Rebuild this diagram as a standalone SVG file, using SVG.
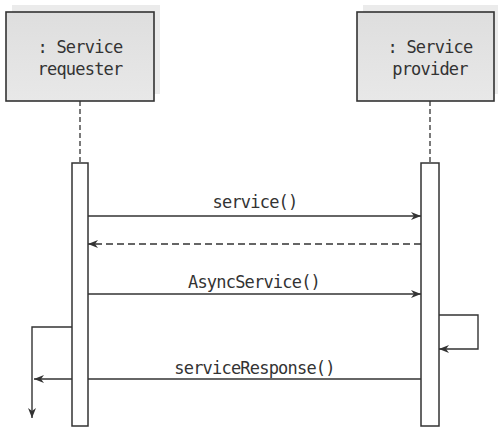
<svg xmlns="http://www.w3.org/2000/svg" width="504" height="427" viewBox="0 0 504 427">
<style>
.shadow{fill:#ebebeb;stroke:none}
.box{fill:url(#g);stroke:#333;stroke-width:1.6}
.bar{fill:#fff;stroke:#333;stroke-width:1.5}
.life{stroke:#333;stroke-width:1.3;stroke-dasharray:5,3;fill:none}
.msg{stroke:#333;stroke-width:1.4;fill:none}
.dash{stroke:#333;stroke-width:1.4;fill:none;stroke-dasharray:7,4}
text{font-family:"DejaVu Sans Mono","Liberation Mono",monospace;font-size:17px;letter-spacing:-0.8px;fill:#333;text-anchor:middle}
</style>
<defs>
<linearGradient id="g" x1="0" y1="0" x2="0" y2="1">
<stop offset="0" stop-color="#dedede"/>
<stop offset="1" stop-color="#e8e8e8"/>
</linearGradient>
<marker id="ah" viewBox="0 0 10 8" refX="10" refY="4" markerWidth="10" markerHeight="8" markerUnits="userSpaceOnUse" orient="auto">
<path d="M0,0 L10,4 L0,8 L3,4 Z" fill="#333"/>
</marker>
</defs>
<rect width="504" height="427" fill="#fff"/>
<g id="requester">
<rect class="shadow" x="12" y="5" width="148" height="89"/>
<rect class="box" x="6" y="12" width="148" height="89"/>
<text x="80" y="53">: Service</text>
<text x="80" y="75">requester</text>
</g>
<g id="provider">
<rect class="shadow" x="363" y="5" width="135" height="89"/>
<rect class="box" x="357" y="12" width="137" height="89"/>
<text x="430" y="53">: Service</text>
<text x="430" y="75">provider</text>
</g>
<g id="connectors">
<line class="life" x1="80" y1="101" x2="80" y2="163"/>
<line class="life" x1="430" y1="101" x2="430" y2="163"/>
<line class="msg" x1="88" y1="216" x2="421" y2="216" marker-end="url(#ah)"/>
<line class="dash" x1="421" y1="244" x2="88" y2="244" marker-end="url(#ah)"/>
<line class="msg" x1="88" y1="294" x2="421" y2="294" marker-end="url(#ah)"/>
<polyline class="msg" points="439,315 478,315 478,349 439,349" marker-end="url(#ah)"/>
<line class="msg" x1="421" y1="379" x2="34" y2="379" marker-end="url(#ah)"/>
<polyline class="msg" points="72,327 32,327 32,418" marker-end="url(#ah)"/>
</g>
<g id="requester-bar"><rect class="bar" x="72" y="163" width="16" height="263"/></g>
<g id="provider-bar"><rect class="bar" x="421" y="163" width="18" height="263"/></g>
<g id="labels">
<text x="255" y="208">service()</text>
<text x="254" y="288">AsyncService()</text>
<text x="254.5" y="374">serviceResponse()</text>
</g>
</svg>
